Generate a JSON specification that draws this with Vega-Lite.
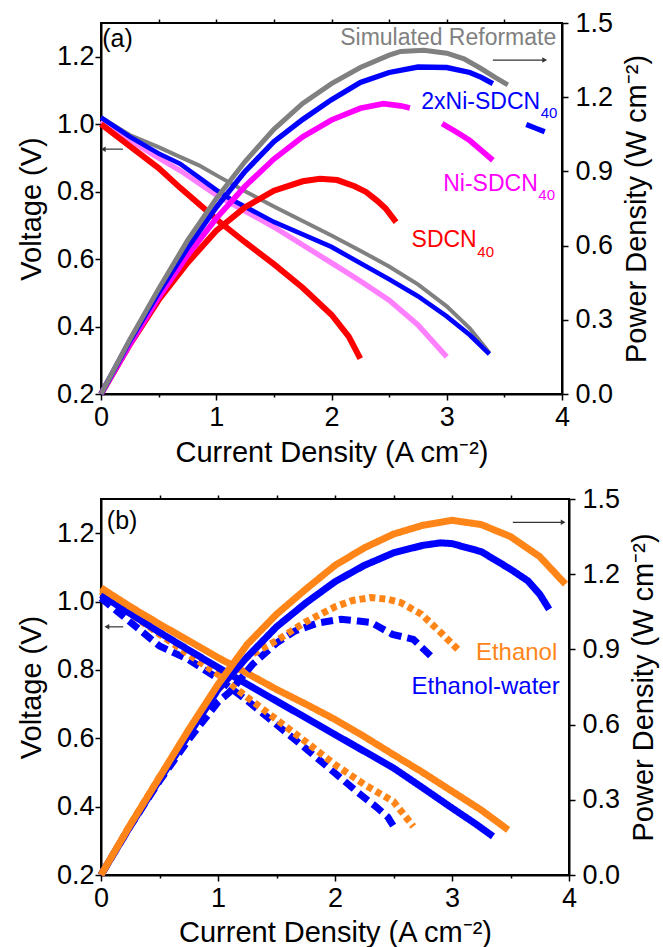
{
  "$schema": "https://vega.github.io/schema/vega-lite/v6.json",
  "padding": {"left": 16, "top": 8, "right": 4, "bottom": 0},
  "spacing": 16,
  "background": "white",
  "resolve": {"scale": {"color": "independent", "strokeWidth": "independent", "strokeDash": "independent"}},
  "config": {
    "font": "Liberation Sans",
    "view": {"stroke": "black", "strokeWidth": 2},
    "axis": {"domainColor": "black", "domainWidth": 2, "tickColor": "black", "tickWidth": 1.5, "labelColor": "black", "titleColor": "black", "labelFont": "Liberation Sans", "titleFont": "Liberation Sans", "labelFontSize": 27, "titleFontSize": 29, "titleFontWeight": "normal", "grid": false},
    "text": {"font": "Liberation Sans"}
  },
  "datasets": {
    "av": [
      {"s": "niv", "i": 0, "v": 1.01}, {"s": "niv", "i": 0.25, "v": 0.952}, {"s": "niv", "i": 0.5, "v": 0.9}, {"s": "niv", "i": 0.685, "v": 0.863}, {"s": "niv", "i": 1.0, "v": 0.79}, {"s": "niv", "i": 1.5, "v": 0.695}, {"s": "niv", "i": 1.99, "v": 0.591}, {"s": "niv", "i": 2.25, "v": 0.535}, {"s": "niv", "i": 2.5, "v": 0.478}, {"s": "niv", "i": 2.75, "v": 0.405}, {"s": "niv", "i": 3.0, "v": 0.31},
      {"s": "sr", "i": 0, "v": 1.02}, {"s": "sr", "i": 0.25, "v": 0.968}, {"s": "sr", "i": 0.5, "v": 0.932}, {"s": "sr", "i": 0.685, "v": 0.903}, {"s": "sr", "i": 0.85, "v": 0.878}, {"s": "sr", "i": 1.03, "v": 0.843}, {"s": "sr", "i": 1.25, "v": 0.801}, {"s": "sr", "i": 1.5, "v": 0.756}, {"s": "sr", "i": 1.75, "v": 0.713}, {"s": "sr", "i": 2.0, "v": 0.67}, {"s": "sr", "i": 2.25, "v": 0.625}, {"s": "sr", "i": 2.5, "v": 0.578}, {"s": "sr", "i": 2.75, "v": 0.525}, {"s": "sr", "i": 3.0, "v": 0.46}, {"s": "sr", "i": 3.2, "v": 0.395}, {"s": "sr", "i": 3.37, "v": 0.322},
      {"s": "sd", "i": 0, "v": 1.0}, {"s": "sd", "i": 0.25, "v": 0.935}, {"s": "sd", "i": 0.5, "v": 0.87}, {"s": "sd", "i": 0.685, "v": 0.812}, {"s": "sd", "i": 1.03, "v": 0.71}, {"s": "sd", "i": 1.25, "v": 0.65}, {"s": "sd", "i": 1.5, "v": 0.585}, {"s": "sd", "i": 1.75, "v": 0.515}, {"s": "sd", "i": 2.0, "v": 0.435}, {"s": "sd", "i": 2.15, "v": 0.37}, {"s": "sd", "i": 2.25, "v": 0.305},
      {"s": "x2", "i": 0, "v": 1.02}, {"s": "x2", "i": 0.25, "v": 0.963}, {"s": "x2", "i": 0.5, "v": 0.913}, {"s": "x2", "i": 0.685, "v": 0.883}, {"s": "x2", "i": 1.0, "v": 0.805}, {"s": "x2", "i": 1.12, "v": 0.779}, {"s": "x2", "i": 1.5, "v": 0.71}, {"s": "x2", "i": 2.0, "v": 0.636}, {"s": "x2", "i": 2.5, "v": 0.54}, {"s": "x2", "i": 2.75, "v": 0.49}, {"s": "x2", "i": 3.0, "v": 0.43}, {"s": "x2", "i": 3.2, "v": 0.375}, {"s": "x2", "i": 3.37, "v": 0.318}
    ],
    "ap": [
      {"s": "sd", "g": 1, "i": 0, "p": 0}, {"s": "sd", "g": 1, "i": 0.25, "p": 0.2}, {"s": "sd", "g": 1, "i": 0.5, "p": 0.38}, {"s": "sd", "g": 1, "i": 0.75, "p": 0.53}, {"s": "sd", "g": 1, "i": 1.0, "p": 0.66}, {"s": "sd", "g": 1, "i": 1.25, "p": 0.755}, {"s": "sd", "g": 1, "i": 1.5, "p": 0.822}, {"s": "sd", "g": 1, "i": 1.75, "p": 0.86}, {"s": "sd", "g": 1, "i": 1.9, "p": 0.87}, {"s": "sd", "g": 1, "i": 2.05, "p": 0.865}, {"s": "sd", "g": 1, "i": 2.2, "p": 0.84}, {"s": "sd", "g": 1, "i": 2.3, "p": 0.817}, {"s": "sd", "g": 1, "i": 2.4, "p": 0.78}, {"s": "sd", "g": 1, "i": 2.47, "p": 0.75}, {"s": "sd", "g": 1, "i": 2.56, "p": 0.695},
      {"s": "ni", "g": 1, "i": 0, "p": 0}, {"s": "ni", "g": 1, "i": 0.25, "p": 0.2}, {"s": "ni", "g": 1, "i": 0.5, "p": 0.39}, {"s": "ni", "g": 1, "i": 0.75, "p": 0.56}, {"s": "ni", "g": 1, "i": 1.0, "p": 0.71}, {"s": "ni", "g": 1, "i": 1.25, "p": 0.84}, {"s": "ni", "g": 1, "i": 1.5, "p": 0.95}, {"s": "ni", "g": 1, "i": 1.75, "p": 1.04}, {"s": "ni", "g": 1, "i": 2.0, "p": 1.108}, {"s": "ni", "g": 1, "i": 2.25, "p": 1.155}, {"s": "ni", "g": 1, "i": 2.45, "p": 1.174}, {"s": "ni", "g": 1, "i": 2.6, "p": 1.165}, {"s": "ni", "g": 1, "i": 2.68, "p": 1.156},
      {"s": "ni", "g": 2, "i": 2.96, "p": 1.093}, {"s": "ni", "g": 2, "i": 3.1, "p": 1.055}, {"s": "ni", "g": 2, "i": 3.2, "p": 1.025}, {"s": "ni", "g": 2, "i": 3.3, "p": 0.985}, {"s": "ni", "g": 2, "i": 3.4, "p": 0.945},
      {"s": "x2", "g": 1, "i": 0, "p": 0}, {"s": "x2", "g": 1, "i": 0.25, "p": 0.215}, {"s": "x2", "g": 1, "i": 0.5, "p": 0.41}, {"s": "x2", "g": 1, "i": 0.75, "p": 0.59}, {"s": "x2", "g": 1, "i": 1.0, "p": 0.755}, {"s": "x2", "g": 1, "i": 1.25, "p": 0.9}, {"s": "x2", "g": 1, "i": 1.5, "p": 1.02}, {"s": "x2", "g": 1, "i": 1.75, "p": 1.11}, {"s": "x2", "g": 1, "i": 2.0, "p": 1.19}, {"s": "x2", "g": 1, "i": 2.25, "p": 1.26}, {"s": "x2", "g": 1, "i": 2.5, "p": 1.3}, {"s": "x2", "g": 1, "i": 2.75, "p": 1.322}, {"s": "x2", "g": 1, "i": 3.0, "p": 1.32}, {"s": "x2", "g": 1, "i": 3.2, "p": 1.3}, {"s": "x2", "g": 1, "i": 3.3, "p": 1.28}, {"s": "x2", "g": 1, "i": 3.4, "p": 1.255},
      {"s": "x2", "g": 2, "i": 3.69, "p": 1.09}, {"s": "x2", "g": 2, "i": 3.77, "p": 1.075}, {"s": "x2", "g": 2, "i": 3.85, "p": 1.06},
      {"s": "sr", "g": 1, "i": 0, "p": 0}, {"s": "sr", "g": 1, "i": 0.25, "p": 0.22}, {"s": "sr", "g": 1, "i": 0.5, "p": 0.425}, {"s": "sr", "g": 1, "i": 0.75, "p": 0.62}, {"s": "sr", "g": 1, "i": 1.0, "p": 0.79}, {"s": "sr", "g": 1, "i": 1.25, "p": 0.94}, {"s": "sr", "g": 1, "i": 1.5, "p": 1.07}, {"s": "sr", "g": 1, "i": 1.75, "p": 1.175}, {"s": "sr", "g": 1, "i": 2.0, "p": 1.255}, {"s": "sr", "g": 1, "i": 2.25, "p": 1.32}, {"s": "sr", "g": 1, "i": 2.5, "p": 1.37}, {"s": "sr", "g": 1, "i": 2.6, "p": 1.385}, {"s": "sr", "g": 1, "i": 2.8, "p": 1.39}, {"s": "sr", "g": 1, "i": 3.0, "p": 1.378}, {"s": "sr", "g": 1, "i": 3.15, "p": 1.355}, {"s": "sr", "g": 1, "i": 3.3, "p": 1.315}, {"s": "sr", "g": 1, "i": 3.42, "p": 1.28}, {"s": "sr", "g": 1, "i": 3.53, "p": 1.25}
    ],
    "alab": [
      {"k": "tag", "s": "k", "t": "(a)", "i": 0.01, "v": 1.252},
      {"k": "main", "s": "sr", "t": "Simulated Reformate", "i": 3.95, "v": 1.255},
      {"k": "main", "s": "x2", "t": "2xNi-SDCN", "i": 3.81, "v": 1.066},
      {"k": "main", "s": "ni", "t": "Ni-SDCN", "i": 3.79, "v": 0.823},
      {"k": "main", "s": "sd", "t": "SDCN", "i": 3.26, "v": 0.657},
      {"k": "sub", "s": "x2", "t": "40", "i": 3.815, "v": 1.033},
      {"k": "sub", "s": "ni", "t": "40", "i": 3.795, "v": 0.79},
      {"k": "sub", "s": "sd", "t": "40", "i": 3.265, "v": 0.622}
    ],
    "aarr": [
      {"side": "left", "i": 0.02, "i2": 0.19, "y": 0.926},
      {"side": "right", "i": 3.85, "i2": 3.4, "y": 1.35}
    ],
    "bv": [
      {"s": "ewd", "i": 0, "v": 1.01}, {"s": "ewd", "i": 0.25, "v": 0.94}, {"s": "ewd", "i": 0.5, "v": 0.87}, {"s": "ewd", "i": 0.75, "v": 0.83}, {"s": "ewd", "i": 1.0, "v": 0.775}, {"s": "ewd", "i": 1.25, "v": 0.71}, {"s": "ewd", "i": 1.5, "v": 0.64}, {"s": "ewd", "i": 1.75, "v": 0.57}, {"s": "ewd", "i": 2.0, "v": 0.498}, {"s": "ewd", "i": 2.2, "v": 0.44}, {"s": "ewd", "i": 2.35, "v": 0.4}, {"s": "ewd", "i": 2.45, "v": 0.37}, {"s": "ewd", "i": 2.52, "v": 0.332},
      {"s": "ethd", "i": 0, "v": 1.03}, {"s": "ethd", "i": 0.25, "v": 0.965}, {"s": "ethd", "i": 0.5, "v": 0.905}, {"s": "ethd", "i": 0.75, "v": 0.845}, {"s": "ethd", "i": 1.0, "v": 0.787}, {"s": "ethd", "i": 1.25, "v": 0.72}, {"s": "ethd", "i": 1.5, "v": 0.655}, {"s": "ethd", "i": 1.75, "v": 0.59}, {"s": "ethd", "i": 2.0, "v": 0.523}, {"s": "ethd", "i": 2.25, "v": 0.465}, {"s": "ethd", "i": 2.5, "v": 0.415}, {"s": "ethd", "i": 2.67, "v": 0.342},
      {"s": "ew", "i": 0, "v": 1.02}, {"s": "ew", "i": 0.25, "v": 0.965}, {"s": "ew", "i": 0.5, "v": 0.91}, {"s": "ew", "i": 0.75, "v": 0.858}, {"s": "ew", "i": 1.0, "v": 0.807}, {"s": "ew", "i": 1.25, "v": 0.758}, {"s": "ew", "i": 1.5, "v": 0.709}, {"s": "ew", "i": 1.75, "v": 0.66}, {"s": "ew", "i": 2.0, "v": 0.611}, {"s": "ew", "i": 2.25, "v": 0.562}, {"s": "ew", "i": 2.5, "v": 0.513}, {"s": "ew", "i": 2.75, "v": 0.455}, {"s": "ew", "i": 3.0, "v": 0.396}, {"s": "ew", "i": 3.2, "v": 0.35}, {"s": "ew", "i": 3.35, "v": 0.313},
      {"s": "eth", "i": 0, "v": 1.04}, {"s": "eth", "i": 0.25, "v": 0.985}, {"s": "eth", "i": 0.5, "v": 0.934}, {"s": "eth", "i": 0.75, "v": 0.885}, {"s": "eth", "i": 1.0, "v": 0.836}, {"s": "eth", "i": 1.25, "v": 0.79}, {"s": "eth", "i": 1.5, "v": 0.743}, {"s": "eth", "i": 1.75, "v": 0.7}, {"s": "eth", "i": 2.0, "v": 0.655}, {"s": "eth", "i": 2.25, "v": 0.605}, {"s": "eth", "i": 2.5, "v": 0.552}, {"s": "eth", "i": 2.75, "v": 0.5}, {"s": "eth", "i": 3.0, "v": 0.445}, {"s": "eth", "i": 3.25, "v": 0.39}, {"s": "eth", "i": 3.48, "v": 0.332}
    ],
    "bp": [
      {"s": "ewd", "i": 0, "p": 0}, {"s": "ewd", "i": 0.25, "p": 0.195}, {"s": "ewd", "i": 0.5, "p": 0.375}, {"s": "ewd", "i": 0.75, "p": 0.54}, {"s": "ewd", "i": 1.0, "p": 0.69}, {"s": "ewd", "i": 1.1, "p": 0.73}, {"s": "ewd", "i": 1.295, "p": 0.84}, {"s": "ewd", "i": 1.5, "p": 0.925}, {"s": "ewd", "i": 1.656, "p": 0.973}, {"s": "ewd", "i": 1.85, "p": 1.005}, {"s": "ewd", "i": 2.05, "p": 1.02}, {"s": "ewd", "i": 2.2, "p": 1.013}, {"s": "ewd", "i": 2.31, "p": 1.007}, {"s": "ewd", "i": 2.49, "p": 0.96}, {"s": "ewd", "i": 2.67, "p": 0.94}, {"s": "ewd", "i": 2.85, "p": 0.86},
      {"s": "ethd", "i": 0, "p": 0}, {"s": "ethd", "i": 0.25, "p": 0.2}, {"s": "ethd", "i": 0.5, "p": 0.39}, {"s": "ethd", "i": 0.75, "p": 0.57}, {"s": "ethd", "i": 1.0, "p": 0.74}, {"s": "ethd", "i": 1.25, "p": 0.87}, {"s": "ethd", "i": 1.5, "p": 0.935}, {"s": "ethd", "i": 1.75, "p": 1.01}, {"s": "ethd", "i": 2.0, "p": 1.07}, {"s": "ethd", "i": 2.15, "p": 1.095}, {"s": "ethd", "i": 2.31, "p": 1.107}, {"s": "ethd", "i": 2.45, "p": 1.1}, {"s": "ethd", "i": 2.56, "p": 1.087}, {"s": "ethd", "i": 2.74, "p": 1.04}, {"s": "ethd", "i": 2.92, "p": 0.96}, {"s": "ethd", "i": 3.05, "p": 0.9},
      {"s": "ew", "i": 0, "p": 0}, {"s": "ew", "i": 0.25, "p": 0.195}, {"s": "ew", "i": 0.5, "p": 0.38}, {"s": "ew", "i": 0.75, "p": 0.56}, {"s": "ew", "i": 1.0, "p": 0.74}, {"s": "ew", "i": 1.25, "p": 0.87}, {"s": "ew", "i": 1.5, "p": 0.99}, {"s": "ew", "i": 1.75, "p": 1.085}, {"s": "ew", "i": 2.0, "p": 1.17}, {"s": "ew", "i": 2.25, "p": 1.235}, {"s": "ew", "i": 2.5, "p": 1.285}, {"s": "ew", "i": 2.75, "p": 1.315}, {"s": "ew", "i": 2.9, "p": 1.325}, {"s": "ew", "i": 3.0, "p": 1.322}, {"s": "ew", "i": 3.25, "p": 1.29}, {"s": "ew", "i": 3.5, "p": 1.22}, {"s": "ew", "i": 3.65, "p": 1.173}, {"s": "ew", "i": 3.75, "p": 1.12}, {"s": "ew", "i": 3.83, "p": 1.06},
      {"s": "eth", "i": 0, "p": 0}, {"s": "eth", "i": 0.25, "p": 0.2}, {"s": "eth", "i": 0.5, "p": 0.39}, {"s": "eth", "i": 0.75, "p": 0.58}, {"s": "eth", "i": 1.0, "p": 0.76}, {"s": "eth", "i": 1.25, "p": 0.92}, {"s": "eth", "i": 1.5, "p": 1.04}, {"s": "eth", "i": 1.75, "p": 1.14}, {"s": "eth", "i": 2.0, "p": 1.235}, {"s": "eth", "i": 2.25, "p": 1.305}, {"s": "eth", "i": 2.5, "p": 1.36}, {"s": "eth", "i": 2.75, "p": 1.395}, {"s": "eth", "i": 3.0, "p": 1.415}, {"s": "eth", "i": 3.25, "p": 1.398}, {"s": "eth", "i": 3.5, "p": 1.35}, {"s": "eth", "i": 3.75, "p": 1.27}, {"s": "eth", "i": 3.97, "p": 1.16}
    ],
    "blab": [
      {"k": "tag", "s": "k", "t": "(b)", "i": 0.05, "v": 1.237},
      {"k": "main", "s": "eth", "t": "Ethanol", "i": 3.9, "v": 0.85},
      {"k": "main", "s": "ew", "t": "Ethanol-water", "i": 3.92, "v": 0.749}
    ],
    "barr": [
      {"side": "left", "i": 0.05, "i2": 0.19, "y": 0.926},
      {"side": "right", "i": 3.95, "i2": 3.52, "y": 1.407}
    ]
  },
  "vconcat": [
    {
      "width": 461,
      "height": 371,
      "layer": [
        {
          "layer": [
            {
              "data": {"name": "av"},
              "mark": {"type": "line", "strokeCap": "butt"},
              "encoding": {
                "x": {"field": "i", "type": "quantitative", "scale": {"domain": [0, 4], "nice": false}, "axis": {"title": "Current Density (A cm⁻²)", "orient": "bottom", "values": [0, 0.5, 1, 1.5, 2, 2.5, 3, 3.5, 4], "labelExpr": "datum.value % 1 === 0 ? format(datum.value, 'd') : ''", "tickSize": {"condition": {"test": "datum.value % 1 !== 0", "value": 3}, "value": 6}, "labelPadding": 4, "titlePadding": 8, "labelFlush": false}},
                "y": {"field": "v", "type": "quantitative", "scale": {"domain": [0.2, 1.3], "nice": false, "zero": false}, "axis": {"title": "Voltage (V)", "orient": "left", "values": [0.2, 0.3, 0.4, 0.5, 0.6, 0.7, 0.8, 0.9, 1.0, 1.1, 1.2], "labelExpr": "round(datum.value*10) % 2 === 0 ? format(datum.value, '.1f') : ''", "tickSize": {"condition": {"test": "round(datum.value*10) % 2 !== 0", "value": 3}, "value": 6}, "labelPadding": 1, "titlePadding": 10, "labelFlush": false}},
                "color": {"field": "s", "type": "nominal", "scale": {"domain": ["sr", "x2", "niv", "ni", "sd", "k"], "range": ["#808080", "#0000FF", "#FF80FF", "#FF00FF", "#FF0000", "#000000"]}, "legend": null},
                "strokeWidth": {"field": "s", "type": "nominal", "scale": {"domain": ["sr", "x2", "niv", "sd"], "range": [4, 6, 6, 4]}, "legend": null}
              }
            },
            {
              "data": {"name": "alab"},
              "transform": [{"filter": "datum.k === 'main'"}],
              "mark": {"type": "text", "align": "right", "baseline": "middle", "fontSize": 23},
              "encoding": {
                "x": {"field": "i", "type": "quantitative"},
                "y": {"field": "v", "type": "quantitative"},
                "text": {"field": "t"},
                "color": {"field": "s", "type": "nominal", "legend": null}
              }
            },
            {
              "data": {"name": "alab"},
              "transform": [{"filter": "datum.k === 'sub'"}],
              "mark": {"type": "text", "align": "left", "baseline": "middle", "fontSize": 15},
              "encoding": {
                "x": {"field": "i", "type": "quantitative"},
                "y": {"field": "v", "type": "quantitative"},
                "text": {"field": "t"},
                "color": {"field": "s", "type": "nominal", "legend": null}
              }
            },
            {
              "data": {"name": "alab"},
              "transform": [{"filter": "datum.k === 'tag'"}],
              "mark": {"type": "text", "align": "left", "baseline": "middle", "fontSize": 25},
              "encoding": {
                "x": {"field": "i", "type": "quantitative"},
                "y": {"field": "v", "type": "quantitative"},
                "text": {"field": "t"},
                "color": {"field": "s", "type": "nominal", "legend": null}
              }
            },
            {
              "data": {"name": "aarr"},
              "transform": [{"filter": "datum.side === 'left'"}],
              "mark": {"type": "rule", "color": "#333333", "strokeWidth": 1.2},
              "encoding": {
                "x": {"field": "i", "type": "quantitative"},
                "x2": {"field": "i2"},
                "y": {"field": "y", "type": "quantitative"}
              }
            },
            {
              "data": {"name": "aarr"},
              "transform": [{"filter": "datum.side === 'left'"}],
              "mark": {"type": "point", "shape": "triangle-left", "filled": true, "size": 30, "color": "#333333", "opacity": 1},
              "encoding": {
                "x": {"field": "i", "type": "quantitative"},
                "y": {"field": "y", "type": "quantitative"}
              }
            }
          ]
        },
        {
          "layer": [
            {
              "data": {"name": "ap"},
              "mark": {"type": "line", "strokeCap": "butt"},
              "encoding": {
                "x": {"field": "i", "type": "quantitative", "axis": {"orient": "top", "title": null, "labels": false, "domain": false, "values": [0.5, 1, 1.5, 2, 2.5, 3, 3.5], "tickSize": 4}},
                "y": {"field": "p", "type": "quantitative", "scale": {"domain": [0, 1.5], "nice": false}, "axis": {"title": "Power Density (W cm⁻²)", "orient": "right", "titleAngle": 270, "titleBaseline": "top", "values": [0, 0.15, 0.3, 0.45, 0.6, 0.75, 0.9, 1.05, 1.2, 1.35, 1.5], "labelExpr": "round(datum.value*100) % 30 === 0 ? format(datum.value, '.1f') : ''", "tickSize": {"condition": {"test": "round(datum.value*100) % 30 !== 0", "value": 3}, "value": 6}, "labelPadding": 7, "titlePadding": 10, "labelFlush": false}},
                "color": {"field": "s", "type": "nominal", "legend": null},
                "detail": {"field": "g", "type": "nominal"},
                "strokeWidth": {"field": "s", "type": "nominal", "scale": {"domain": ["sr", "x2", "ni", "sd"], "range": [5, 6, 3, 6]}, "legend": null}
              }
            },
            {
              "data": {"name": "aarr"},
              "transform": [{"filter": "datum.side === 'right'"}],
              "mark": {"type": "rule", "color": "#333333", "strokeWidth": 1.2},
              "encoding": {
                "x": {"field": "i", "type": "quantitative"},
                "x2": {"field": "i2"},
                "y": {"field": "y", "type": "quantitative"}
              }
            },
            {
              "data": {"name": "aarr"},
              "transform": [{"filter": "datum.side === 'right'"}],
              "mark": {"type": "point", "shape": "triangle-right", "filled": true, "size": 30, "color": "#333333", "opacity": 1},
              "encoding": {
                "x": {"field": "i", "type": "quantitative"},
                "y": {"field": "y", "type": "quantitative"}
              }
            }
          ]
        }
      ],
      "resolve": {"scale": {"y": "independent", "strokeWidth": "independent"}, "axis": {"x": "independent"}}
    },
    {
      "width": 468,
      "height": 376,
      "layer": [
        {
          "layer": [
            {
              "data": {"name": "bv"},
              "mark": {"type": "line", "strokeCap": "butt"},
              "encoding": {
                "x": {"field": "i", "type": "quantitative", "scale": {"domain": [0, 4], "nice": false}, "axis": {"title": "Current Density (A cm⁻²)", "orient": "bottom", "values": [0, 0.5, 1, 1.5, 2, 2.5, 3, 3.5, 4], "labelExpr": "datum.value % 1 === 0 ? format(datum.value, 'd') : ''", "tickSize": {"condition": {"test": "datum.value % 1 !== 0", "value": 3}, "value": 6}, "labelPadding": 4, "titlePadding": 7, "labelFlush": false}},
                "y": {"field": "v", "type": "quantitative", "scale": {"domain": [0.2, 1.3], "nice": false, "zero": false}, "axis": {"title": "Voltage (V)", "orient": "left", "values": [0.2, 0.3, 0.4, 0.5, 0.6, 0.7, 0.8, 0.9, 1.0, 1.1, 1.2], "labelExpr": "round(datum.value*10) % 2 === 0 ? format(datum.value, '.1f') : ''", "tickSize": {"condition": {"test": "round(datum.value*10) % 2 !== 0", "value": 3}, "value": 6}, "labelPadding": 1, "titlePadding": 10, "labelFlush": false}},
                "color": {"field": "s", "type": "nominal", "scale": {"domain": ["eth", "ew", "ethd", "ewd", "k"], "range": ["#FF8519", "#0000FF", "#FF8519", "#0000FF", "#000000"]}, "legend": null},
                "strokeWidth": {"field": "s", "type": "nominal", "scale": {"domain": ["eth", "ew", "ethd", "ewd"], "range": [7, 7, 4, 4]}, "legend": null},
                "strokeDash": {"field": "s", "type": "nominal", "scale": {"domain": ["eth", "ew", "ethd", "ewd"], "range": [[1, 0], [1, 0], [6, 4], [12, 6]]}, "legend": null}
              }
            },
            {
              "data": {"name": "blab"},
              "transform": [{"filter": "datum.k === 'main'"}],
              "mark": {"type": "text", "align": "right", "baseline": "middle", "fontSize": 24},
              "encoding": {
                "x": {"field": "i", "type": "quantitative"},
                "y": {"field": "v", "type": "quantitative"},
                "text": {"field": "t"},
                "color": {"field": "s", "type": "nominal", "legend": null}
              }
            },
            {
              "data": {"name": "blab"},
              "transform": [{"filter": "datum.k === 'tag'"}],
              "mark": {"type": "text", "align": "left", "baseline": "middle", "fontSize": 25},
              "encoding": {
                "x": {"field": "i", "type": "quantitative"},
                "y": {"field": "v", "type": "quantitative"},
                "text": {"field": "t"},
                "color": {"field": "s", "type": "nominal", "legend": null}
              }
            },
            {
              "data": {"name": "barr"},
              "transform": [{"filter": "datum.side === 'left'"}],
              "mark": {"type": "rule", "color": "#333333", "strokeWidth": 1.2},
              "encoding": {
                "x": {"field": "i", "type": "quantitative"},
                "x2": {"field": "i2"},
                "y": {"field": "y", "type": "quantitative"}
              }
            },
            {
              "data": {"name": "barr"},
              "transform": [{"filter": "datum.side === 'left'"}],
              "mark": {"type": "point", "shape": "triangle-left", "filled": true, "size": 30, "color": "#333333", "opacity": 1},
              "encoding": {
                "x": {"field": "i", "type": "quantitative"},
                "y": {"field": "y", "type": "quantitative"}
              }
            }
          ]
        },
        {
          "layer": [
            {
              "data": {"name": "bp"},
              "mark": {"type": "line", "strokeCap": "butt"},
              "encoding": {
                "x": {"field": "i", "type": "quantitative", "axis": {"orient": "top", "title": null, "labels": false, "domain": false, "values": [0.5, 1, 1.5, 2, 2.5, 3, 3.5], "tickSize": 4}},
                "y": {"field": "p", "type": "quantitative", "scale": {"domain": [0, 1.5], "nice": false}, "axis": {"title": "Power Density (W cm⁻²)", "orient": "right", "titleAngle": 270, "titleBaseline": "top", "values": [0, 0.15, 0.3, 0.45, 0.6, 0.75, 0.9, 1.05, 1.2, 1.35, 1.5], "labelExpr": "round(datum.value*100) % 30 === 0 ? format(datum.value, '.1f') : ''", "tickSize": {"condition": {"test": "round(datum.value*100) % 30 !== 0", "value": 3}, "value": 6}, "labelPadding": 7, "titlePadding": 10, "labelFlush": false}},
                "color": {"field": "s", "type": "nominal", "legend": null},
                "strokeWidth": {"field": "s", "type": "nominal", "scale": {"domain": ["eth", "ew", "ethd", "ewd"], "range": [7, 7, 4, 4]}, "legend": null},
                "strokeDash": {"field": "s", "type": "nominal", "legend": null}
              }
            },
            {
              "data": {"name": "barr"},
              "transform": [{"filter": "datum.side === 'right'"}],
              "mark": {"type": "rule", "color": "#333333", "strokeWidth": 1.2},
              "encoding": {
                "x": {"field": "i", "type": "quantitative"},
                "x2": {"field": "i2"},
                "y": {"field": "y", "type": "quantitative"}
              }
            },
            {
              "data": {"name": "barr"},
              "transform": [{"filter": "datum.side === 'right'"}],
              "mark": {"type": "point", "shape": "triangle-right", "filled": true, "size": 30, "color": "#333333", "opacity": 1},
              "encoding": {
                "x": {"field": "i", "type": "quantitative"},
                "y": {"field": "y", "type": "quantitative"}
              }
            }
          ]
        }
      ],
      "resolve": {"scale": {"y": "independent", "strokeWidth": "independent"}, "axis": {"x": "independent"}}
    }
  ]
}
